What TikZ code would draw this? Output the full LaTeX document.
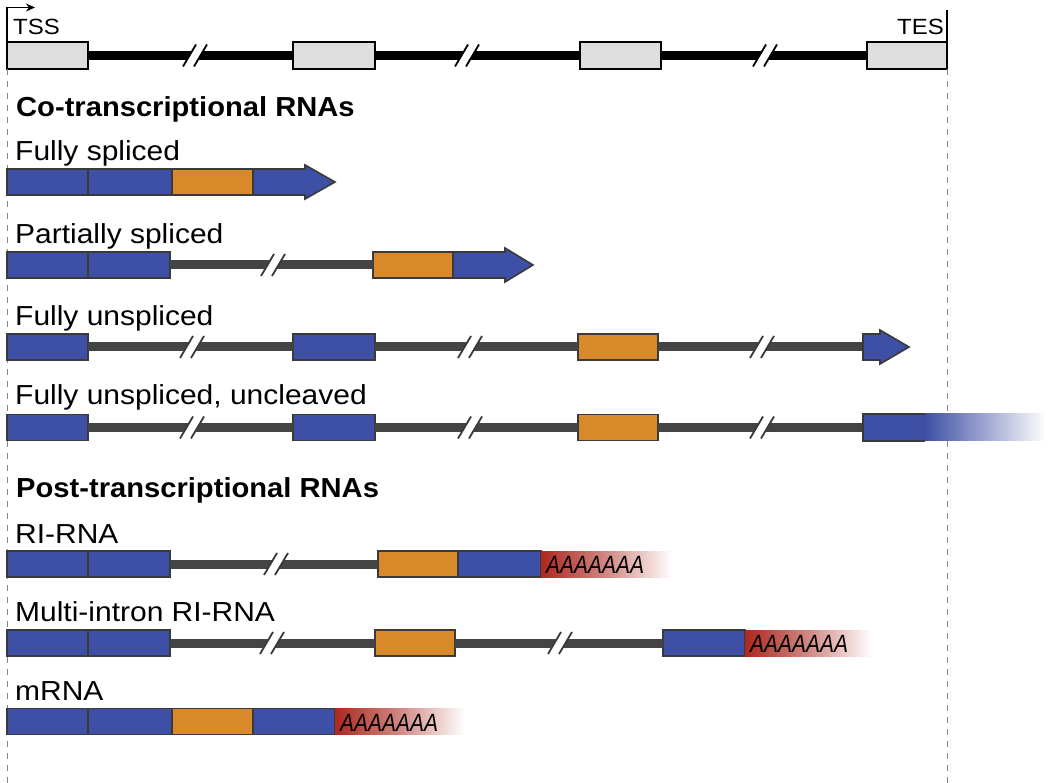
\documentclass[tikz,border=0pt]{standalone}
\usepackage{fontspec}
\setmainfont{Liberation Sans}
\usetikzlibrary{arrows.meta}
\definecolor{rblue}{RGB}{62,80,165}
\definecolor{rorange}{RGB}{216,137,42}
\definecolor{rborder}{RGB}{58,58,58}
\definecolor{rgrey}{RGB}{222,222,222}
\definecolor{rintron}{RGB}{68,68,68}
\definecolor{rred}{RGB}{172,40,32}
\definecolor{rdash}{RGB}{135,135,135}
\tikzset{
 exon/.style={draw=rborder, line width=1.6pt, inner sep=0pt, outer sep=0pt, anchor=west, minimum height=26pt},
 gexon/.style={draw=black, line width=1.8pt, fill=rgrey, inner sep=0pt, outer sep=0pt, anchor=west, minimum height=27pt},
 intron/.style={draw=rintron, line width=9pt},
 gintron/.style={draw=black, line width=9pt},
 lbl/.style={anchor=base west, inner sep=0pt, font=\fontsize{27.5}{32}\selectfont},
 hdr/.style={anchor=base west, inner sep=0pt, font=\fontsize{27.5}{32}\selectfont\bfseries},
 small/.style={inner sep=0pt, font=\fontsize{22}{26}\selectfont},
 polya/.style={anchor=west, inner sep=0pt, font=\fontsize{25}{28}\selectfont\itshape},
 guide/.style={draw=rdash, line width=1pt, dash pattern=on 6pt off 6pt},
 arrowbody/.style={fill=rblue, draw=rborder, line width=1.6pt, line join=miter},
}
% exon node: name, x1, x2, yc, colour
\newcommand\ex[5]{\pgfmathsetmacro\exw{#3-#2}\node[exon, fill=#5, minimum width=\exw pt] (#1) at (#2,#4) {};}
\newcommand\gex[4]{\pgfmathsetmacro\exw{#3-#2}\node[gexon, minimum width=\exw pt] (#1) at (#2,#4) {};}
% break mark: x, y, colour
\newcommand\brk[3]{%
 \fill[white] (#1-12,#2+11) -- (#1+1,#2-11) -- (#1+12,#2-11) -- (#1-1,#2+11) -- cycle;
 \draw[line width=1.8pt, #3] (#1-12,#2+11) -- (#1+1,#2-11);
 \draw[line width=1.8pt, #3] (#1-1,#2+11) -- (#1+12,#2-11);}
% poly-A tail: name, x1, x2, top, bottom
\newcommand\pA[5]{%
 \shade[left color=rred, right color=white, middle color=rred!55!white] (#2,#4) rectangle (#3,#5);
 \node[polya] (#1) at (#2+5,{(#4+#5)/2+1}) {\scalebox{0.84}[1]{AAAAAAA}};}
\newcommand\lab[1]{\scalebox{1.09}[1]{#1}}
\newcommand\labb[1]{\scalebox{1.06}[1]{#1}}
\begin{document}
\begin{tikzpicture}[x=1pt,y=-1pt]
\useasboundingbox (0,0) rectangle (1050,783);
\fill[white] (0,0) rectangle (1050,783);

% ---------- gene model ----------
\gex{g1}{7}{88}{55.5}
\gex{g2}{293}{375}{55.5}
\gex{g3}{580}{661}{55.5}
\gex{g4}{867}{947}{55.5}
\draw[gintron] (g1.east) -- (g2.west);
\draw[gintron] (g2.east) -- (g3.west);
\draw[gintron] (g3.east) -- (g4.west);
\brk{195}{55.5}{black}
\brk{467}{55.5}{black}
\brk{765}{55.5}{black}
\coordinate (tsstip) at (35,7.5);
\coordinate (tesTop) at (947,10);
\draw[line width=1.5pt, -{Stealth[length=9pt,width=8pt]}] (g1.north west) |- (tsstip);
\draw[line width=1.5pt] (g4.north east) -- (tesTop);
\node[small, anchor=base west] (tss) at (13,35) {\lab{TSS}};
\node[small, anchor=base east] (tes) at (944,35) {\lab{TES}};
\coordinate (guideA) at (7,783);
\coordinate (guideB) at (947,783);
\draw[guide] (g1.south west) -- (guideA);
\draw[guide] (g4.south east) -- (guideB);

% ---------- Co-transcriptional ----------
\node[hdr] (co) at (16,117) {\labb{Co-transcriptional RNAs}};

% Fully spliced
\node[lbl] (l1) at (15,161) {\lab{Fully spliced}};
\ex{r1a}{7}{88}{182}{rblue}
\ex{r1b}{88}{172}{182}{rblue}
\ex{r1c}{172}{253}{182}{rorange}
\draw[arrowbody] (253,169) -- (305,169) -- (305,165) -- (335,182) -- (305,199) -- (305,195) -- (253,195) -- cycle;

% Partially spliced
\node[lbl] (l2) at (15,244) {\lab{Partially spliced}};
\ex{r2a}{7}{88}{265}{rblue}
\ex{r2b}{88}{170}{265}{rblue}
\ex{r2c}{373}{453}{265}{rorange}
\draw[intron] (r2b.east) -- (r2c.west);
\brk{273}{265}{rborder}
\draw[arrowbody] (453,252) -- (505,252) -- (505,248) -- (533,265) -- (505,282) -- (505,278) -- (453,278) -- cycle;

% Fully unspliced
\node[lbl] (l3) at (15,326) {\lab{Fully unspliced}};
\ex{r3a}{7}{88}{347}{rblue}
\ex{r3b}{293}{375}{347}{rblue}
\ex{r3c}{578}{658}{347}{rorange}
\coordinate (r3d) at (863,347);
\draw[intron] (r3a.east) -- (r3b.west);
\draw[intron] (r3b.east) -- (r3c.west);
\draw[intron] (r3c.east) -- (r3d);
\brk{192}{347}{rborder}
\brk{470}{347}{rborder}
\brk{762}{347}{rborder}
\draw[arrowbody] (863,334) -- (880,334) -- (880,330) -- (909,347) -- (880,364) -- (880,360) -- (863,360) -- cycle;

% Fully unspliced, uncleaved
\node[lbl] (l4) at (15,405) {\lab{Fully unspliced, uncleaved}};
\ex{r4a}{7}{88}{427.5}{rblue}
\ex{r4b}{293}{375}{427.5}{rblue}
\ex{r4c}{578}{658}{427.5}{rorange}
\coordinate (r4d) at (863,427.5);
\draw[intron] (r4a.east) -- (r4b.west);
\draw[intron] (r4b.east) -- (r4c.west);
\draw[intron] (r4c.east) -- (r4d);
\brk{192}{427.5}{rborder}
\brk{470}{427.5}{rborder}
\brk{762}{427.5}{rborder}
\fill[rblue] (863,414) rectangle (925,441);
\shade[left color=rblue, right color=white] (925,414) rectangle (1046,441);
\draw[rborder, line width=1.6pt] (925,414) -- (863,414) -- (863,441) -- (925,441);

% ---------- Post-transcriptional ----------
\node[hdr] (post) at (16,497) {\labb{Post-transcriptional RNAs}};

% RI-RNA
\node[lbl] (l5) at (15,543) {\lab{RI-RNA}};
\ex{r5a}{7}{88}{564}{rblue}
\ex{r5b}{88}{170}{564}{rblue}
\ex{r5c}{378}{458}{564}{rorange}
\ex{r5d}{458}{541}{564}{rblue}
\draw[intron] (r5b.east) -- (r5c.west);
\brk{276}{564}{rborder}
\pA{a5}{541}{672}{551}{577}

% Multi-intron RI-RNA
\node[lbl] (l6) at (15,621) {\lab{Multi-intron RI-RNA}};
\ex{r6a}{7}{88}{643}{rblue}
\ex{r6b}{88}{170}{643}{rblue}
\ex{r6c}{375}{455}{643}{rorange}
\ex{r6d}{663}{745}{643}{rblue}
\draw[intron] (r6b.east) -- (r6c.west);
\draw[intron] (r6c.east) -- (r6d.west);
\brk{272}{643}{rborder}
\brk{560}{643}{rborder}
\pA{a6}{745}{872}{630}{656}

% mRNA
\node[lbl] (l7) at (15,700) {\lab{mRNA}};
\ex{r7a}{7}{88}{721.5}{rblue}
\ex{r7b}{88}{172}{721.5}{rblue}
\ex{r7c}{172}{253}{721.5}{rorange}
\ex{r7d}{253}{335}{721.5}{rblue}
\pA{a7}{335}{465}{708.5}{734.5}
\end{tikzpicture}
\end{document}
